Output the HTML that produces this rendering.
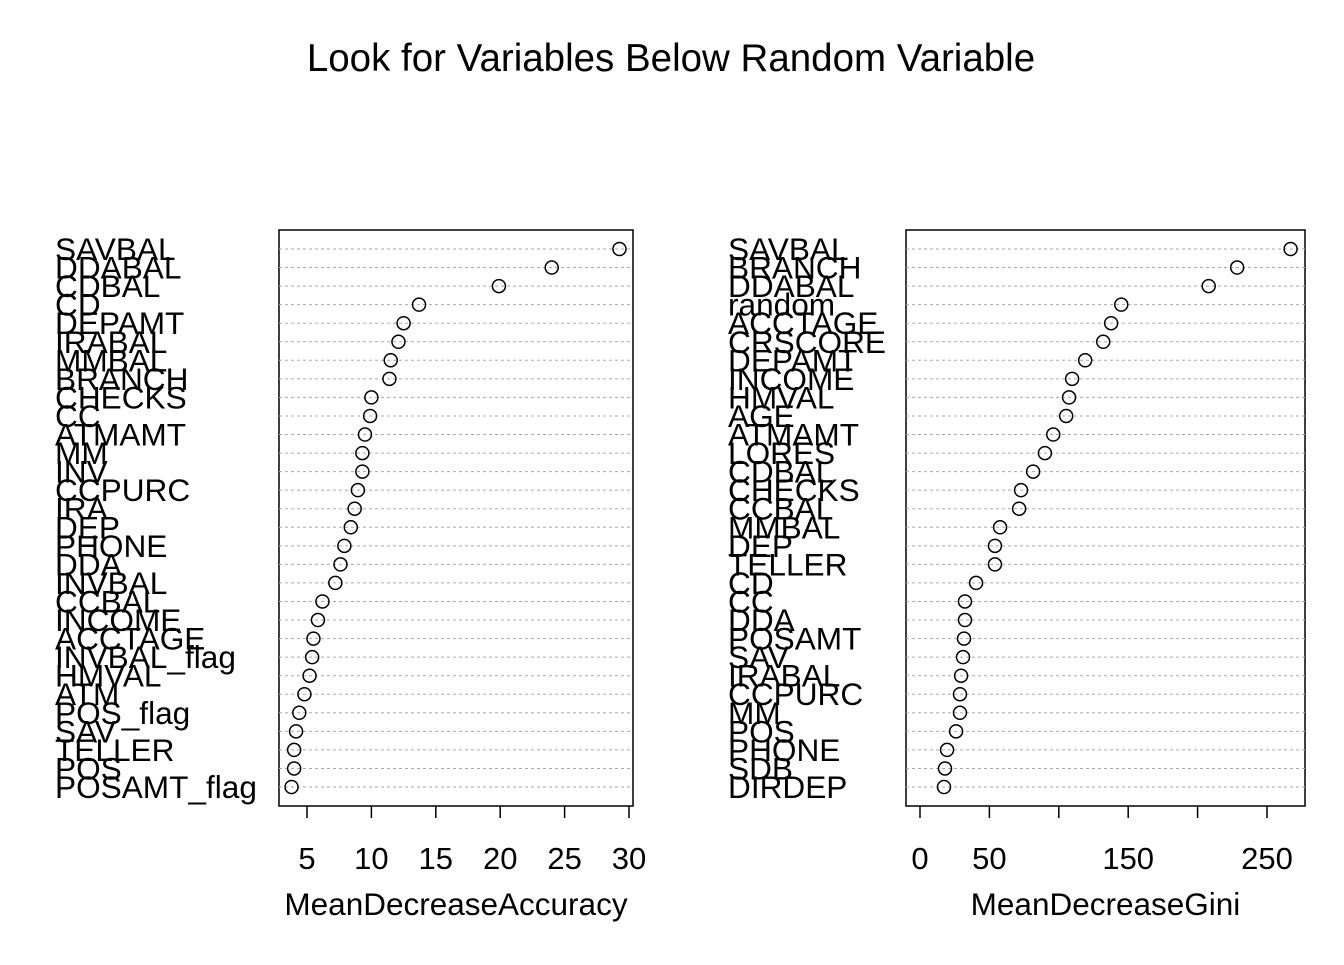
<!DOCTYPE html>
<html><head><meta charset="utf-8"><style>
body{margin:0;background:#fff}
svg text{font-family:"Liberation Sans",Arial,sans-serif;fill:#000}
</style></head><body>
<svg id="chart" width="1344" height="960" xmlns="http://www.w3.org/2000/svg">
<text x="671" y="71" font-size="38.5" text-anchor="middle">Look for Variables Below Random Variable</text>
<g id="left"></g><g id="right"></g>
</svg>
<script>
const leftLabels=["SAVBAL","DDABAL","CDBAL","CD","DEPAMT","IRABAL","MMBAL","BRANCH","CHECKS","CC","ATMAMT","MM","INV","CCPURC","IRA","DEP","PHONE","DDA","INVBAL","CCBAL","INCOME","ACCTAGE","INVBAL_flag","HMVAL","ATM","POS_flag","SAV","TELLER","POS","POSAMT_flag"];
const leftValues=[29.26,24.0,19.9,13.7,12.5,12.1,11.5,11.4,10.0,9.9,9.5,9.3,9.3,8.95,8.7,8.4,7.9,7.6,7.2,6.2,5.85,5.5,5.4,5.2,4.8,4.4,4.15,4.0,4.0,3.8];
const leftTicks=[5,10,15,20,25,30];
const leftTickLabels=["5","10","15","20","25","30"];
const rightLabels=["SAVBAL","BRANCH","DDABAL","random","ACCTAGE","CRSCORE","DEPAMT","INCOME","HMVAL","AGE","ATMAMT","LORES","CDBAL","CHECKS","CCBAL","MMBAL","DEP","TELLER","CD","CC","DDA","POSAMT","SAV","IRABAL","CCPURC","MM","POS","PHONE","SDB","DIRDEP"];
const rightValues=[267,228.5,208,145,137.7,132,119,109.6,107.4,105.3,96,90,81.5,72.8,71.4,57.7,54,54,40.4,32.4,32.4,31.7,31,29.6,28.8,28.8,26,19.5,18,17.3];
const rightTicks=[0,50,100,150,200,250];
const rightTickLabels=["0","50","","150","","250"];
const NS="http://www.w3.org/2000/svg";
function mk(p,t,a){const e=document.createElementNS(NS,t);for(const k in a)e.setAttribute(k,a[k]);p.appendChild(e);return e;}
function panel(g,labels,values,ticks,tlabels,box,x0,v0,x1,v1,labelX,title,prefix){
  const sx=v=>x0+(v-v0)*(x1-x0)/(v1-v0);
  const n=labels.length,top=249,bot=787;
  const sy=i=>top+i*(bot-top)/(n-1);
  const frame=mk(g,'rect',{x:box[0],y:230,width:box[1]-box[0],height:576,fill:'none',stroke:'#000','stroke-width':1.5});
  
  
  labels.forEach((l,i)=>{
    const y=sy(i);
    const gl=mk(g,'line',{x1:box[0],x2:box[1],y1:y,y2:y,stroke:'#aaa','stroke-dasharray':'3,3','stroke-width':1});
    
    
    const t=mk(g,'text',{x:labelX,y:y+11,'font-size':31.6});
    t.textContent=l;
    
    
    const c=mk(g,'circle',{cx:sx(values[i]),cy:y,r:6.5,fill:'none',stroke:'#000','stroke-width':1.5});
    
    
  });
  ticks.forEach((tv,i)=>{
    const x=sx(tv);
    const tk=mk(g,'line',{x1:x,x2:x,y1:806,y2:818,stroke:'#000','stroke-width':1.5});
    
    
    if(tlabels[i]){const t=mk(g,'text',{x:x,y:869,'font-size':31,'text-anchor':'middle'});t.textContent=tlabels[i];
    
    }
  });
  const xt=mk(g,'text',{x:(box[0]+box[1])/2,y:915,'font-size':31.5,'text-anchor':'middle'});
  xt.textContent=title;
  
  
}
panel(document.getElementById('left'),leftLabels,leftValues,leftTicks,leftTickLabels,[279,633],307,5,629,30,55,'MeanDecreaseAccuracy','accuracy');
panel(document.getElementById('right'),rightLabels,rightValues,rightTicks,rightTickLabels,[906,1305],920,0,1267,250,728,'MeanDecreaseGini','gini');
</script>
</body></html>
